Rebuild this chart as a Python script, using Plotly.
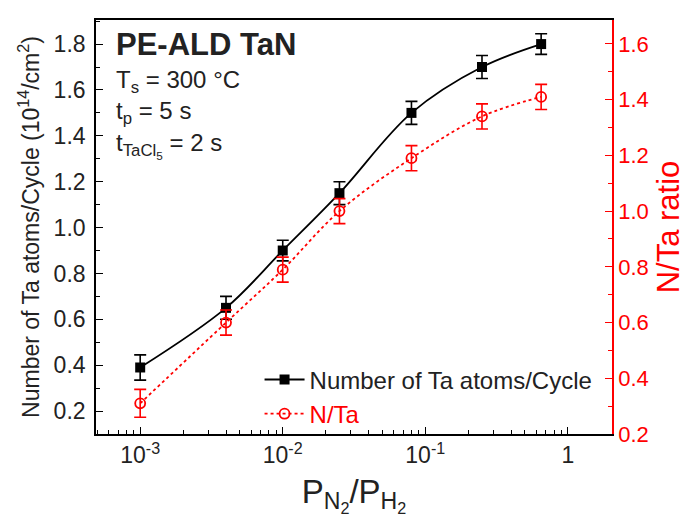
import plotly.graph_objects as go

# Data
ratio = [0.001, 0.004, 0.01, 0.025, 0.08, 0.25, 0.65]
ta_atoms = [0.39, 0.65, 0.90, 1.15, 1.50, 1.70, 1.80]
ta_err = [0.055, 0.05, 0.045, 0.05, 0.05, 0.05, 0.045]
n_ta = [0.31, 0.60, 0.79, 1.00, 1.19, 1.34, 1.41]
n_ta_err = [0.05, 0.045, 0.045, 0.045, 0.045, 0.045, 0.045]

x_tickvals = [1e-3, 1e-2, 1e-1, 1]
x_ticktext = ["10<sup>-3</sup>", "10<sup>-2</sup>", "10<sup>-1</sup>", "1"]

minor_vals = []
for dec in [1e-4, 1e-3, 1e-2, 1e-1]:
    for m in range(2, 10):
        minor_vals.append(m * dec)

FONT = "Liberation Sans, Arial, sans-serif"
RED = "#ff0000"
TXT = "#222"

fig = go.Figure()
fig.add_trace(go.Scatter(
    x=ratio, y=ta_atoms, name="Number of Ta atoms/Cycle",
    mode="lines+markers", line=dict(color="black", width=1.8, shape="spline"),
    marker=dict(symbol="square", size=10, color="black"),
    error_y=dict(type="data", array=ta_err, color="black", thickness=1.6, width=6),
))
fig.add_trace(go.Scatter(
    x=ratio, y=n_ta, name="<span style=\"color:#ff0000\">N/Ta</span>", yaxis="y2",
    mode="lines+markers", line=dict(color=RED, width=1.8, dash="dot", shape="spline"),
    marker=dict(symbol="circle-open", size=10, color=RED, line=dict(width=1.8)),
    error_y=dict(type="data", array=n_ta_err, color=RED, thickness=1.6, width=6),
))

xtitle = ("P<sub>N<sub>2</sub></sub>/P<sub>H<sub>2</sub></sub>")

fig.update_layout(
    width=693, height=522,
    margin=dict(l=96, r=81, t=20, b=88),
    plot_bgcolor="white", paper_bgcolor="white",
    font=dict(family=FONT, size=22, color=TXT),
    showlegend=True,
    legend=dict(x=0.972, y=0.185, xanchor="right", yanchor="top",
                bgcolor="rgba(0,0,0,0)", font=dict(size=24, color=TXT),
                tracegroupgap=0, itemwidth=40),
    xaxis=dict(
        type="log", range=[-3.31, 0.31],
        tickmode="array", tickvals=x_tickvals, ticktext=x_ticktext,
        ticks="inside", ticklen=7, tickwidth=1.4, tickcolor="black",
        minor=dict(tickmode="array", tickvals=minor_vals, ticks="inside", ticklen=4,
                   tickwidth=1.3, tickcolor="black", showgrid=False),
        showline=True, linecolor="black", linewidth=1.6, mirror=True,
        showgrid=False, zeroline=False,
        tickfont=dict(size=23, color=TXT),
        title=dict(text=xtitle, font=dict(size=33, color=TXT), standoff=12),
        automargin=False,
    ),
    yaxis=dict(
        range=[0.1, 1.905], tickmode="linear", tick0=0.2, dtick=0.2,
        tickformat=".1f",
        ticks="inside", ticklen=7, tickwidth=1.4, tickcolor="black",
        minor=dict(dtick=0.1, tick0=0.1, ticks="inside", ticklen=4, tickwidth=1.3,
                   tickcolor="black", showgrid=False),
        showline=True, linecolor="black", linewidth=1.6,
        showgrid=False, zeroline=False,
        tickfont=dict(size=23, color=TXT), ticklabelstandoff=4,
        title=dict(text="Number of Ta atoms/Cycle (10<sup>14</sup>/cm<sup>2</sup>)",
                   font=dict(size=23, color=TXT), standoff=8),
        automargin=False,
    ),
    yaxis2=dict(
        overlaying="y", side="right",
        range=[0.2, 1.686], tickmode="linear", tick0=0.2, dtick=0.2,
        tickformat=".1f",
        ticks="inside", ticklen=7, tickwidth=1.4, tickcolor=RED,
        minor=dict(dtick=0.1, tick0=0.1, ticks="inside", ticklen=4, tickwidth=1.3,
                   tickcolor=RED, showgrid=False),
        showline=True, linecolor=RED, linewidth=1.6,
        showgrid=False, zeroline=False,
        tickfont=dict(size=22, color=RED),
        title=dict(text="N/Ta ratio", font=dict(size=31, color=RED), standoff=10),
        automargin=False,
    ),
)

ann = [
    ("<b>PE-ALD TaN</b>", 0.035, 0.940, 31),
    ("T<sub>s</sub> = 300 °C", 0.035, 0.852, 24),
    ("t<sub>p</sub> = 5 s", 0.035, 0.776, 24),
    ("t<sub>TaCl<sub>5</sub></sub> = 2 s", 0.035, 0.696, 24),
]
for text, x, y, size in ann:
    fig.add_annotation(text=text, x=x, y=y, xref="paper", yref="paper",
                       xanchor="left", yanchor="middle", showarrow=False,
                       font=dict(size=size, color=TXT))

fig.write_html("out.html")
